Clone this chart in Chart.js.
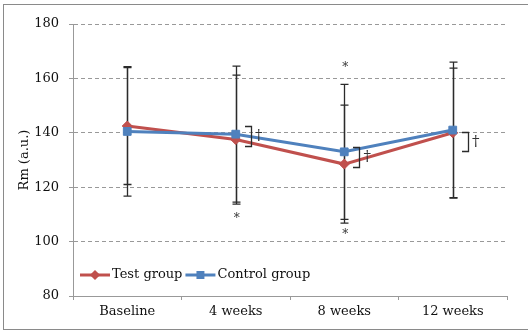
<!DOCTYPE html>
<html>
<head>
<meta charset="utf-8">
<script src="https://cdn.jsdelivr.net/npm/chart.js@4/dist/chart.umd.min.js"></script>
<style>
  html, body { margin: 0; padding: 0; background: #fff; }
  canvas { display: block; }
</style>
</head>
<body>
<canvas id="chart" width="528" height="333"></canvas>
<script>
// Rm over the follow-up period, mean ± SD
const categories = ['Baseline', '4 weeks', '8 weeks', '12 weeks'];
const testMean = [142.5, 137.5, 128.5, 140];
const testSD = [21.5, 23.7, 21.7, 23.8];
const controlMean = [140.5, 139.5, 133, 141];
const controlSD = [23.8, 25, 24.8, 25];
const yTicks = [80, 100, 120, 140, 160, 180];

// significance marks: '*' placed at a value on the axis, '†' brackets between values
const starCategory = ['4 weeks', '8 weeks', '8 weeks'];
const starValue = [109, 103.2, 164.6];
const bracketTop = [null, 142.5, 134.8, 140.3];
const bracketBottom = [null, 135.1, 127.4, 133.3];

const FONT = '"DejaVu Serif", "Liberation Serif", serif';
const RED = '#C0504D';
const BLUE = '#4F81BD';

const errorBars = {
  id: 'errorBars',
  beforeDatasetsDraw(chart) {
    const { ctx, scales: { x, y } } = chart;
    ctx.save();
    ctx.strokeStyle = '#2b2b2b';
    ctx.lineWidth = 1.3;
    const sets = [[testMean, testSD], [controlMean, controlSD]];
    sets.forEach(([m, s]) => {
      m.forEach((v, i) => {
        const cx = Math.round(x.getPixelForValue(i)) + 0.5;
        const yt = y.getPixelForValue(v + s[i]);
        const yb = y.getPixelForValue(v - s[i]);
        ctx.beginPath();
        ctx.moveTo(cx, yt); ctx.lineTo(cx, yb);
        ctx.moveTo(cx - 4, yt); ctx.lineTo(cx + 4, yt);
        ctx.moveTo(cx - 4, yb); ctx.lineTo(cx + 4, yb);
        ctx.stroke();
      });
    });
    ctx.restore();
  }
};

const marks = {
  id: 'marks',
  afterDatasetsDraw(chart) {
    const { ctx, scales: { x, y } } = chart;
    ctx.save();
    ctx.fillStyle = '#333';
    ctx.textAlign = 'center';
    ctx.textBaseline = 'middle';
    ctx.font = '12px ' + FONT;
    starCategory.forEach((c, i) => {
      const cx = x.getPixelForValue(categories.indexOf(c));
      ctx.fillText('*', cx + 1, y.getPixelForValue(starValue[i]) + 2);
    });
    ctx.strokeStyle = '#2b2b2b';
    ctx.lineWidth = 1.3;
    ctx.font = '15px ' + FONT;
    bracketTop.forEach((t, i) => {
      if (t === null) return;
      const cx = x.getPixelForValue(i);
      const y1 = Math.round(y.getPixelForValue(t)) + 0.5;
      const y2 = Math.round(y.getPixelForValue(bracketBottom[i])) + 0.5;
      const x1 = Math.round(cx + 9), x2 = Math.round(cx + 15) + 0.5;
      ctx.beginPath();
      ctx.moveTo(x1, y1); ctx.lineTo(x2, y1); ctx.lineTo(x2, y2); ctx.lineTo(x1, y2);
      ctx.stroke();
      ctx.fillText('†', cx + 23, (y1 + y2) / 2);
    });
    ctx.restore();
  }
};

const legendInside = {
  id: 'legendInside',
  afterDraw(chart) {
    const { ctx, chartArea } = chart;
    const yc = 275;
    let xs = chartArea.left + 7;
    ctx.save();
    ctx.font = '13px ' + FONT;
    ctx.textBaseline = 'middle';
    ctx.fillStyle = '#111';
    chart.data.datasets.forEach(ds => {
      ctx.strokeStyle = ds.borderColor;
      ctx.lineWidth = 3;
      ctx.beginPath();
      ctx.moveTo(xs, yc); ctx.lineTo(xs + 30, yc);
      ctx.stroke();
      Chart.helpers.drawPoint(ctx, {
        pointStyle: ds.pointStyle, radius: ds.pointRadius - 2, borderWidth: 1
      }, xs + 15, yc);
      ctx.fillStyle = ds.borderColor;
      ctx.fill();
      ctx.fillStyle = '#111';
      ctx.fillText(ds.label, xs + 32, yc);
      xs += 32 + ctx.measureText(ds.label).width + 3;
    });
    ctx.restore();
  }
};

const frame = {
  id: 'frame',
  afterDraw(chart) {
    const { ctx } = chart;
    ctx.save();
    ctx.strokeStyle = '#8a8a8a';
    ctx.lineWidth = 1;
    ctx.strokeRect(3.5, 4.5, 540, 325);
    ctx.restore();
  }
};

new Chart(document.getElementById('chart'), {
  type: 'line',
  data: {
    labels: categories,
    datasets: [
      {
        label: 'Test group',
        data: testMean,
        borderColor: RED,
        backgroundColor: RED,
        borderWidth: 3,
        pointStyle: 'rectRot',
        pointRadius: 5,
        pointBorderWidth: 1,
        order: 2
      },
      {
        label: 'Control group',
        data: controlMean,
        borderColor: BLUE,
        backgroundColor: BLUE,
        borderWidth: 3,
        pointStyle: 'rect',
        pointRadius: 5.5,
        pointBorderWidth: 1,
        order: 1
      }
    ]
  },
  options: {
    responsive: false,
    animation: false,
    events: [],
    layout: { padding: { left: 0, right: 21, top: 24, bottom: 0 } },
    plugins: { legend: { display: false }, tooltip: { enabled: false } },
    scales: {
      x: {
        offset: true,
        grid: { offset: true, drawOnChartArea: false, drawTicks: true, tickLength: 4, color: '#999' },
        border: { display: true, color: '#999', width: 1 },
        ticks: { color: '#111', font: { family: FONT, size: 13 }, padding: 4 },
        afterFit(s) { s.height = 37; }
      },
      y: {
        min: 80,
        max: 180,
        afterBuildTicks(s) { s.ticks = yTicks.map(v => ({ value: v })); },
        grid: { color: '#999', tickLength: 4, drawTicks: true },
        border: { display: true, color: '#999', width: 1, dash: [4, 3] },
        ticks: { color: '#111', font: { family: FONT, size: 13 }, padding: 10 },
        title: {
          display: true,
          text: 'Rm (a.u.)',
          color: '#111',
          font: { family: FONT, size: 13 },
          padding: { top: 17, bottom: 0 }
        },
        afterFit(s) { s.width = 73; }
      }
    }
  },
  plugins: [errorBars, marks, legendInside, frame]
});
</script>
</body>
</html>
